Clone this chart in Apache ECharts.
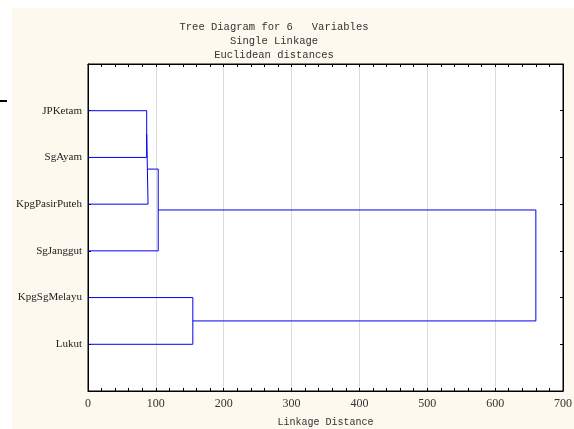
<!DOCTYPE html>
<html><head><meta charset="utf-8">
<script src="https://cdn.jsdelivr.net/npm/echarts@6/dist/echarts.min.js"></script>
<style>html,body{margin:0;padding:0;background:#fff}#c{width:574px;height:429px}</style>
</head><body><div id="c"></div>
<script>
const titleLines = ['Tree Diagram for 6   Variables', 'Single Linkage', 'Euclidean distances'];
const axisTitle = 'Linkage Distance';
const leaves = ['JPKetam', 'SgAyam', 'KpgPasirPuteh', 'SgJanggut', 'KpgSgMelayu', 'Lukut'];
// merges: cluster ids 0..5 are leaves, 6.. are merges in order
const mergeA = [0, 6, 7, 4, 8];
const mergeB = [1, 2, 3, 5, 9];
const mergeDist = [86.5, 88.5, 103.5, 154.5, 660];
const xMin = 0, xMax = 700, xStep = 100;

// cluster positions from the data
const pos = leaves.map((_, i) => i + 1);
const hgt = leaves.map(() => 0);
const series = [];
mergeDist.forEach((d, k) => {
  const a = mergeA[k], b = mergeB[k];
  series.push({
    type: 'line', symbol: 'none', animation: false, silent: true,
    lineStyle: { color: '#0000ee', width: 1 },
    data: [[hgt[a], pos[a]], [d, pos[a]], [d, pos[b]], [hgt[b], pos[b]]]
  });
  pos.push((pos[a] + pos[b]) / 2);
  hgt.push(d);
});

const chart = echarts.init(document.getElementById('c'), null, { renderer: 'canvas' });
const commonX = {
  type: 'value', min: xMin, max: xMax, interval: xStep,
  axisLine: { show: true, onZero: false, lineStyle: { color: '#000', width: 1 } },
  axisTick: { show: true, inside: true, length: 3, lineStyle: { color: '#000' } },
  minorTick: { show: true, splitNumber: 5, length: 3, lineStyle: { color: '#000' } },
};
chart.setOption({
  backgroundColor: '#fdf9ee',
  animation: false,
  title: {
    text: titleLines.join('\n'),
    left: 269, top: 15, textAlign: 'center',
    textStyle: { fontFamily: 'Liberation Mono', fontSize: 10.5, fontWeight: 'normal', color: '#333', lineHeight: 14 }
  },
  graphic: [
    { type: 'rect', shape: { x: 0, y: 0, width: 574, height: 8 }, style: { fill: '#fff' } },
    { type: 'rect', shape: { x: 0, y: 0, width: 12, height: 429 }, style: { fill: '#fff' } },
    { type: 'line', shape: { x1: 0, y1: 101, x2: 7, y2: 101 }, style: { stroke: '#000', lineWidth: 2 } }
  ],
  grid: { left: 88, top: 64, right: 11, bottom: 38, outerBoundsMode: 'none', containLabel: false,
          show: true, backgroundColor: '#fff', borderColor: '#000', borderWidth: 1 },
  xAxis: [
    Object.assign({}, commonX, {
      position: 'bottom',
      name: axisTitle, nameLocation: 'middle', nameGap: 26,
      nameTextStyle: { fontFamily: 'Liberation Mono', fontSize: 10, color: '#333' },
      axisLabel: { margin: 7, fontFamily: 'Liberation Serif', fontSize: 12, color: '#333' },
      splitLine: { show: true, lineStyle: { color: '#dcdcdc', width: 1 } }
    }),
    Object.assign({}, commonX, {
      position: 'top',
      axisLabel: { show: false },
      splitLine: { show: false }
    })
  ],
  yAxis: [
    {
      type: 'value', min: 0, max: leaves.length + 1, interval: 1, inverse: true, position: 'left',
      axisLine: { show: true, onZero: false, lineStyle: { color: '#000', width: 1 } },
      axisTick: { show: true, inside: true, length: 3, lineStyle: { color: '#000' } },
      axisLabel: {
        margin: 6, fontFamily: 'Liberation Serif', fontSize: 11, color: '#222',
        formatter: v => leaves[v - 1] || ''
      },
      splitLine: { show: false }
    },
    {
      type: 'value', min: 0, max: leaves.length + 1, interval: 1, inverse: true, position: 'right',
      axisLine: { show: true, onZero: false, lineStyle: { color: '#000', width: 1 } },
      axisTick: { show: true, inside: true, length: 3, lineStyle: { color: '#000' } },
      axisLabel: { show: false },
      splitLine: { show: false }
    }
  ],
  series: series
});
</script></body></html>
